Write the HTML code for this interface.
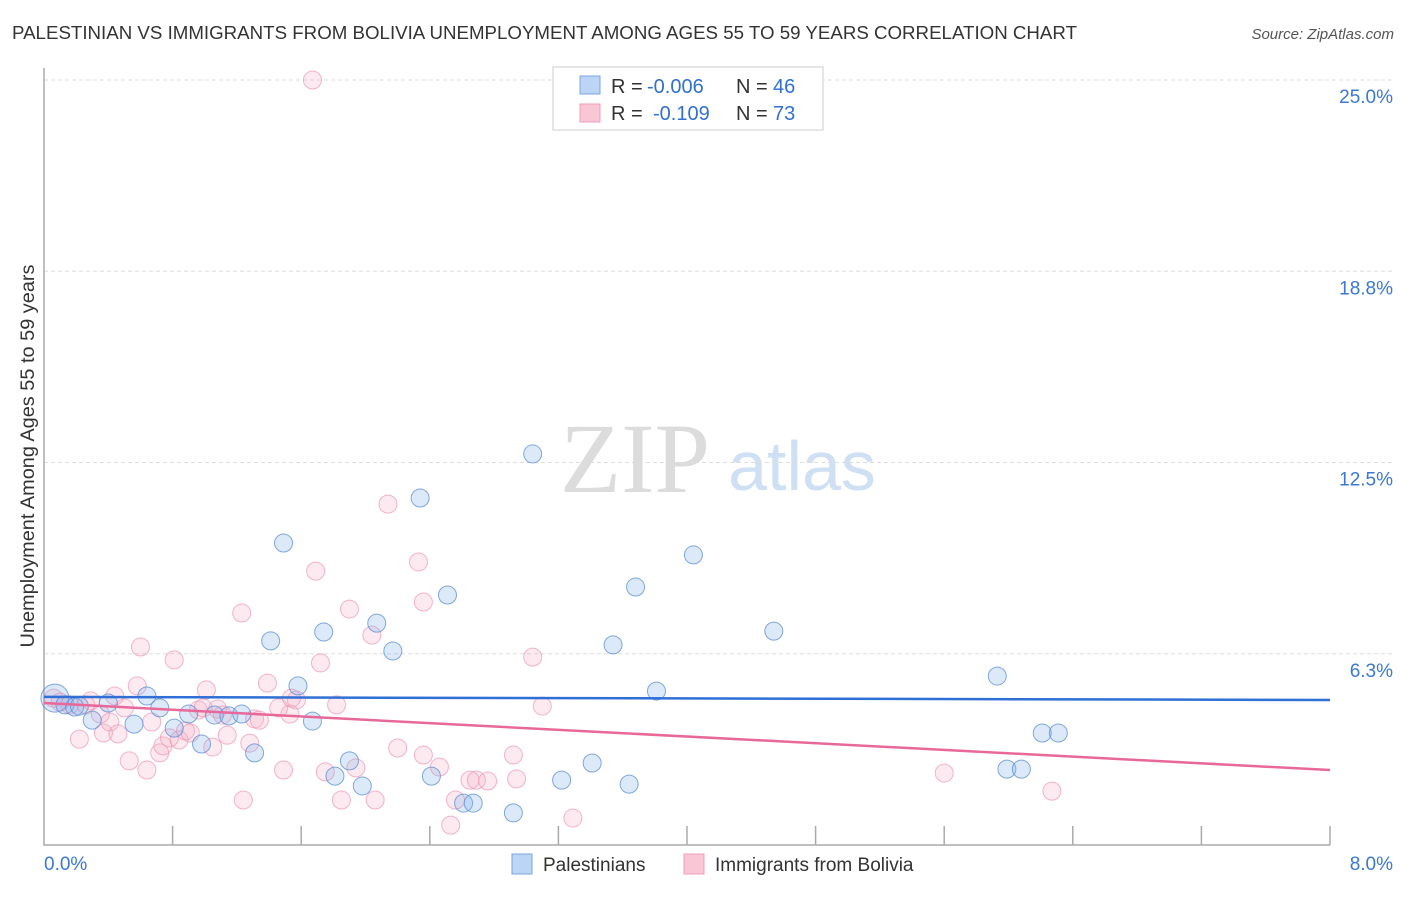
<!DOCTYPE html>
<html><head><meta charset="utf-8"><style>
body{margin:0;background:#fff;font-family:"Liberation Sans",sans-serif;}
</style></head><body>
<svg id="chart" width="1406" height="892" style="font-family:'Liberation Sans',sans-serif">
<text x="12" y="39" font-size="18" fill="#333" textLength="1065" lengthAdjust="spacingAndGlyphs">PALESTINIAN VS IMMIGRANTS FROM BOLIVIA UNEMPLOYMENT AMONG AGES 55 TO 59 YEARS CORRELATION CHART</text>
<text x="1394" y="39" font-size="15" fill="#555" font-style="italic" text-anchor="end">Source: ZipAtlas.com</text>
<text x="635" y="492" font-size="100" fill="#dcdcdc" style="font-family:'Liberation Serif',serif" text-anchor="middle">ZIP</text>
<text x="802" y="490" font-size="70" fill="#cfe0f4" text-anchor="middle">atlas</text>
<text transform="translate(34,456) rotate(-90)" font-size="19" fill="#333" textLength="383" lengthAdjust="spacingAndGlyphs" text-anchor="middle">Unemployment Among Ages 55 to 59 years</text>
<g id="grid"></g><g id="pts"></g><g id="lines"></g>
<rect x="553" y="67" width="270" height="63" fill="#fff" stroke="#ccc"/>
<rect x="580" y="76" width="20" height="18" fill="#bcd4f5" stroke="#7aa6e0"/>
<rect x="580" y="104" width="20" height="18" fill="#f9c6d6" stroke="#ef9fb9"/>
<g font-size="20">
<text x="611" y="93" fill="#333">R =</text><text x="647" y="93" fill="#3070d0">-0.006</text><text x="736" y="93" fill="#333">N =</text><text x="773" y="93" fill="#3070d0">46</text>
<text x="611" y="120" fill="#333">R =</text><text x="653" y="120" fill="#3070d0">-0.109</text><text x="736" y="120" fill="#333">N =</text><text x="773" y="120" fill="#3070d0">73</text>
</g>
<rect x="512" y="854" width="20" height="20" fill="#bcd4f5" stroke="#7aa6e0"/>
<text x="543" y="871" font-size="19" fill="#333">Palestinians</text>
<rect x="684" y="854" width="20" height="20" fill="#f9c6d6" stroke="#ef9fb9"/>
<text x="715" y="871" font-size="19" fill="#333">Immigrants from Bolivia</text>
<text x="44" y="870" font-size="19" fill="#3a78d4">0.0%</text>
<text x="1393" y="870" font-size="19" fill="#3a78d4" text-anchor="end">8.0%</text>
</svg>
<script>
const blueX=[.068,.13,.19,.30,.40,.56,.64,.72,.81,.90,.98,1.06,1.15,1.23,1.31,1.41,1.49,1.58,1.67,1.74,1.81,1.90,1.98,2.07,2.17,2.34,2.41,2.51,2.61,2.67,2.92,3.04,3.22,3.41,3.54,3.64,3.68,3.81,4.04,4.54,5.93,5.99,6.08,6.21,6.31,.22];
const blueY=[4.80,4.58,4.51,4.08,4.64,3.95,4.87,4.48,3.82,4.28,3.30,4.25,4.22,4.28,3.01,6.67,9.87,5.20,4.05,6.96,2.25,2.75,1.93,7.25,6.34,11.34,2.25,8.17,1.37,1.37,1.05,12.78,2.12,2.68,6.54,1.99,8.43,5.03,9.48,6.99,5.52,2.48,2.48,3.66,3.66,4.54];
const pinkX=[1.67,.06,.10,.16,.26,.22,.29,.35,.37,.41,.44,.46,.50,.53,.58,.60,.64,.67,.72,.74,.78,.81,.84,.88,.91,.96,.99,1.01,1.05,1.08,1.11,1.14,1.23,1.24,1.28,1.31,1.34,1.39,1.46,1.49,1.53,1.54,1.57,1.69,1.72,1.75,1.82,1.85,1.90,1.94,2.04,2.06,2.14,2.20,2.33,2.36,2.36,2.46,2.53,2.56,2.65,2.69,2.76,2.92,2.94,3.04,3.10,3.29,5.60,6.27];
const pinkY=[25.0,4.80,4.67,4.58,4.58,3.46,4.71,4.28,3.66,4.02,4.87,3.63,4.48,2.75,5.20,6.47,2.45,4.02,3.01,3.24,3.50,6.05,3.43,3.73,3.66,4.41,4.48,5.07,3.20,4.44,4.25,3.59,7.58,1.47,3.33,4.12,4.08,5.29,4.48,2.45,4.28,4.80,4.74,8.95,5.95,2.39,4.58,1.47,7.71,2.52,6.86,1.47,11.14,3.17,9.25,7.94,2.94,2.55,0.65,1.47,2.12,2.12,2.09,2.94,2.16,6.14,4.54,0.88,2.35,1.76];
const blueTrend=[4.84,4.74];
const pinkTrend=[4.64,2.45];
const yTicks=[6.25,12.5,18.75,25];
const yTickLabels=["6.3%","12.5%","18.8%","25.0%"];
const xTicks=[0.8,1.6,2.4,3.2,4.0,4.8,5.6,6.4,7.2,8.0];
const X=v=>44+v*160.75, Y=v=>845-v*30.6;
const NS="http://www.w3.org/2000/svg";
function mk(t,a,p){const e=document.createElementNS(NS,t);for(const k in a)e.setAttribute(k,a[k]);p.appendChild(e);return e;}
const grid=document.getElementById('grid'),pts=document.getElementById('pts'),lines=document.getElementById('lines');
yTicks.forEach((v,i)=>{
 const l=mk('line',{x1:44,x2:1393,y1:Y(v),y2:Y(v),stroke:'#ddd','stroke-dasharray':'4,3'},grid);
 
 
 const t=mk('text',{x:1393,y:Y(v)+23,'font-size':19,fill:'#3a78d4','text-anchor':'end'},grid);t.textContent=yTickLabels[i];
 
 
});
const ax=mk('path',{d:'M44,68 V845 H1330',fill:'none',stroke:'#aaa','stroke-width':1.5},grid);


xTicks.forEach(v=>{const l=mk('line',{x1:X(v),x2:X(v),y1:826,y2:845,stroke:'#aaa','stroke-width':1.5},grid);
 
 });
pinkX.forEach((x,i)=>{const c=mk('circle',{cx:X(x),cy:Y(pinkY[i]),r:9,fill:'rgba(244,170,195,0.25)',stroke:'rgba(238,150,180,0.7)','stroke-width':1},pts);
 
 });
blueX.forEach((x,i)=>{const c=mk('circle',{cx:X(x),cy:Y(blueY[i]),r:i===0?14:9,fill:'rgba(130,175,235,0.28)',stroke:'rgba(90,140,215,0.75)','stroke-width':1},pts);
 
 });
const bl=mk('line',{x1:X(0),x2:X(8),y1:Y(blueTrend[0]),y2:Y(blueTrend[1]),stroke:'#2f6fd6','stroke-width':2.5},lines);


const pl=mk('line',{x1:X(0),x2:X(8),y1:Y(pinkTrend[0]),y2:Y(pinkTrend[1]),stroke:'#e8689a','stroke-width':2.5},lines);


</script>
</body></html>
